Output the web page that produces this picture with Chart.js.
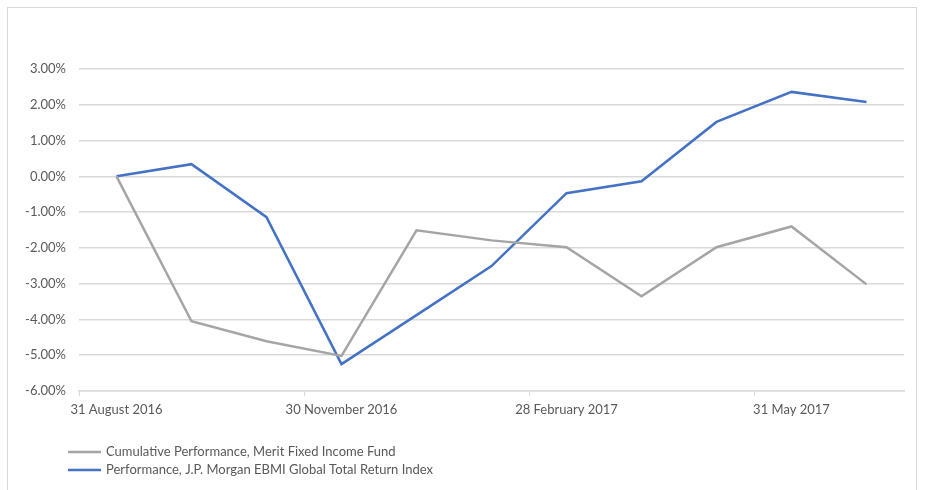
<!DOCTYPE html>
<html>
<head>
<meta charset="utf-8">
<script src="https://cdn.jsdelivr.net/npm/chart.js@4.4.1/dist/chart.umd.min.js"></script>
<style>
  html, body { margin: 0; padding: 0; background: #fff; }
  #wrap { position: relative; width: 925px; height: 490px; }
  #frame { position: absolute; left: 7px; top: 7px; width: 910px; height: 490px; border: 1px solid #d9d9d9; box-sizing: border-box; }
  #perfChart { position: absolute; left: 0; top: 0; }
</style>
</head>
<body>
<div id="wrap">
  <div id="frame"></div>
  <canvas id="perfChart" width="925" height="490"></canvas>
</div>
<script>
const months = [
  "31 August 2016", "30 September 2016", "31 October 2016", "30 November 2016",
  "31 December 2016", "31 January 2017", "28 February 2017", "31 March 2017",
  "30 April 2017", "31 May 2017", "30 June 2017"
];
const meritFund = [0.00, -4.05, -4.61, -5.02, -1.51, -1.79, -1.98, -3.35, -1.98, -1.40, -3.02];
const jpmIndex = [0.00, 0.34, -1.14, -5.25, -3.88, -2.51, -0.47, -0.14, 1.52, 2.36, 2.08];
const seriesNames = [
  "Cumulative Performance, Merit Fixed Income Fund",
  "Performance, J.P. Morgan EBMI Global Total Return Index"
];
const yTicks = [3, 2, 1, 0, -1, -2, -3, -4, -5, -6];

const FONT = "Lato, 'Open Sans', sans-serif";
const TEXT = "#595959";
const GRID = "#d9d9d9";

// legend stacked in two rows at bottom left, like the Excel original
const stackedLegend = {
  id: "stackedLegend",
  afterDraw(chart) {
    const c = chart.ctx;
    c.save();
    c.font = "13px " + FONT;
    c.textBaseline = "middle";
    chart.data.datasets.forEach((ds, i) => {
      const y = 452 + i * 18;
      c.strokeStyle = ds.borderColor;
      c.lineWidth = 2.5;
      c.beginPath();
      c.moveTo(68, y);
      c.lineTo(101, y);
      c.stroke();
      c.fillStyle = TEXT;
      c.fillText(ds.label, 106, y);
    });
    c.restore();
  }
};

const ctx = document.getElementById("perfChart").getContext("2d");
new Chart(ctx, {
  type: "line",
  data: {
    labels: months,
    datasets: [
      { label: seriesNames[0], data: meritFund, borderColor: "#a5a5a5", borderWidth: 2.5, pointRadius: 0, tension: 0 },
      { label: seriesNames[1], data: jpmIndex, borderColor: "#4472c4", borderWidth: 2.5, pointRadius: 0, tension: 0 }
    ]
  },
  options: {
    responsive: false,
    animation: false,
    layout: { padding: { top: 69, right: 21, bottom: 0, left: 0 } },
    plugins: {
      legend: { display: false },
      tooltip: { enabled: false }
    },
    scales: {
      x: {
        type: "category",
        offset: true,
        afterFit: s => { s.height = 99; },
        grid: {
          offset: true,
          drawOnChartArea: false,
          drawTicks: true,
          tickLength: 5,
          color: c => (c.index % 3 === 0 ? GRID : "rgba(0,0,0,0)"),
          lineWidth: 1
        },
        border: { display: true, color: GRID, width: 1.5 },
        ticks: {
          autoSkip: false,
          maxRotation: 0,
          padding: 6,
          color: TEXT,
          font: { family: FONT, size: 13 },
          callback: function (v, i) { return i % 3 === 0 ? this.getLabelForValue(v) : ""; }
        }
      },
      y: {
        min: Math.min(...yTicks),
        max: Math.max(...yTicks),
        afterFit: s => { s.width = 79; },
        afterBuildTicks: s => { s.ticks = yTicks.map(v => ({ value: v })); },
        grid: { color: GRID, lineWidth: 1.5, drawTicks: false },
        border: { display: false },
        ticks: {
          padding: 13,
          color: TEXT,
          font: { family: FONT, size: 13 },
          callback: v => v.toFixed(2) + "%"
        }
      }
    }
  },
  plugins: [stackedLegend]
});
</script>
</body>
</html>
